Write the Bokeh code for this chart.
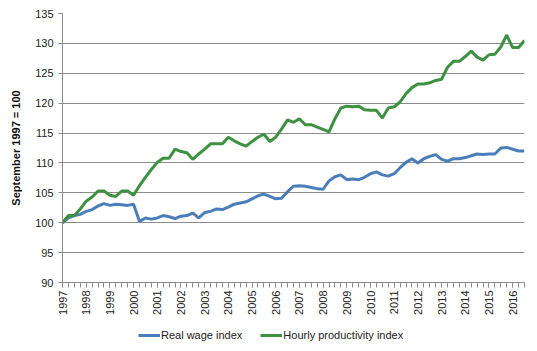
import math
from bokeh.plotting import figure
from bokeh.layouts import column
from bokeh.models import FixedTicker, Legend, LegendItem, ColumnDataSource
from bokeh.embed import file_html
from bokeh.resources import INLINE

# Quarterly observations, September 1997 = 100
years = list(range(1997, 2017))
real_wage = [100.0, 100.8, 101.2, 101.4, 101.9, 102.2, 102.8, 103.2, 102.9, 103.1,
             103.0, 102.9, 103.1, 100.2, 100.8, 100.6, 100.8, 101.2, 101.0, 100.7,
             101.1, 101.2, 101.6, 100.8, 101.7, 101.9, 102.3, 102.2, 102.6, 103.1,
             103.3, 103.5, 104.0, 104.5, 104.8, 104.4, 104.0, 104.1, 105.2, 106.1,
             106.2, 106.1, 105.9, 105.7, 105.6, 107.0, 107.7, 108.0, 107.2, 107.3,
             107.2, 107.6, 108.2, 108.5, 108.0, 107.8, 108.2, 109.2, 110.1, 110.7,
             110.0, 110.7, 111.1, 111.4, 110.6, 110.3, 110.7, 110.7, 110.9, 111.2,
             111.5, 111.4, 111.5, 111.5, 112.5, 112.6, 112.3, 112.0, 112.0]
productivity = [100.0, 101.2, 101.2, 102.3, 103.6, 104.3, 105.3, 105.3, 104.6, 104.4,
                105.3, 105.3, 104.6, 106.2, 107.6, 108.9, 110.1, 110.8, 110.8, 112.3,
                111.9, 111.7, 110.6, 111.5, 112.3, 113.2, 113.2, 113.2, 114.3, 113.7,
                113.2, 112.8, 113.6, 114.3, 114.8, 113.6, 114.3, 115.7, 117.2, 116.8,
                117.4, 116.4, 116.4, 116.0, 115.6, 115.2, 117.4, 119.2, 119.5, 119.4,
                119.5, 118.9, 118.8, 118.8, 117.5, 119.2, 119.4, 120.2, 121.6, 122.6,
                123.2, 123.2, 123.4, 123.8, 124.0, 126.0, 127.0, 127.0, 127.8, 128.7,
                127.7, 127.2, 128.1, 128.2, 129.4, 131.4, 129.3, 129.3, 130.5]
y_ticks = [90, 95, 100, 105, 110, 115, 120, 125, 130, 135]
series_names = ["Real wage index", "Hourly productivity index"]
series_colors = ["#4a7ebb", "#3d9140"]

quarters = list(range(len(real_wage)))
source = ColumnDataSource(data=dict(q=quarters, wage=real_wage, prod=productivity))

FONT = "Liberation Sans"
GRID = "#8c8c8c"

p = figure(width=537, height=320, output_backend="svg", toolbar_location=None,
           x_range=(0, len(quarters) - 1), y_range=(90, 135),
           min_border_left=62, min_border_right=13, min_border_top=13,
           min_border_bottom=38)
p.outline_line_color = None
p.background_fill_color = "white"

r1 = p.line("q", "wage", source=source, line_color=series_colors[0], line_width=3)
r2 = p.line("q", "prod", source=source, line_color=series_colors[1], line_width=3)

# x axis
p.xaxis.ticker = FixedTicker(ticks=[4 * k for k in range(len(years))],
                             minor_ticks=quarters)
p.xaxis.major_label_overrides = {4 * k: str(y) for k, y in enumerate(years)}
p.xaxis.major_label_orientation = math.pi / 2
p.xaxis.major_label_text_font = FONT
p.xaxis.major_label_text_font_size = "11px"
p.xaxis.major_label_text_color = "#222222"
p.xaxis.axis_line_color = GRID
p.xaxis.major_tick_line_color = GRID
p.xaxis.minor_tick_line_color = GRID
p.xaxis.major_tick_in = 0
p.xaxis.major_tick_out = 5
p.xaxis.minor_tick_in = 0
p.xaxis.minor_tick_out = 5
p.xaxis.major_label_standoff = 3

# y axis
p.yaxis.ticker = FixedTicker(ticks=y_ticks)
p.yaxis.minor_tick_line_color = None
p.yaxis.major_tick_in = 0
p.yaxis.major_tick_out = 4
p.yaxis.axis_line_color = GRID
p.yaxis.major_tick_line_color = GRID
p.yaxis.major_label_text_font = FONT
p.yaxis.major_label_text_font_size = "11px"
p.yaxis.major_label_text_color = "#222222"
p.yaxis.axis_label = "September 1997 = 100"
p.yaxis.axis_label_text_font = FONT
p.yaxis.axis_label_text_font_size = "11px"
p.yaxis.axis_label_text_font_style = "bold"
p.yaxis.axis_label_text_color = "#111111"
p.yaxis.axis_label_standoff = 10

p.xgrid.grid_line_color = None
p.ygrid.grid_line_color = GRID
p.ygrid.grid_line_width = 1

# legend strip below the chart (its lines use the same data, kept out of view)
lg = figure(width=537, height=31, output_backend="svg", toolbar_location=None,
            min_border=0, x_range=(0, 1), y_range=(0, 1))
lg.axis.visible = False
lg.grid.visible = False
lg.outline_line_color = None
d1 = lg.line("q", "wage", source=source, line_color=series_colors[0], line_width=3)
d2 = lg.line("q", "prod", source=source, line_color=series_colors[1], line_width=3)
legend = Legend(items=[LegendItem(label=series_names[0], renderers=[d1]),
                       LegendItem(label=series_names[1], renderers=[d2])],
                orientation="horizontal", location=(76, 10),
                label_text_font=FONT, label_text_font_size="11px",
                label_text_color="#222222",
                glyph_width=22, glyph_height=12, label_standoff=1, spacing=18,
                padding=0, margin=0, border_line_color=None,
                background_fill_alpha=0)
lg.add_layout(legend, "center")

layout = column(p, lg, spacing=0)
open("out.html", "w").write(file_html(layout, INLINE))
